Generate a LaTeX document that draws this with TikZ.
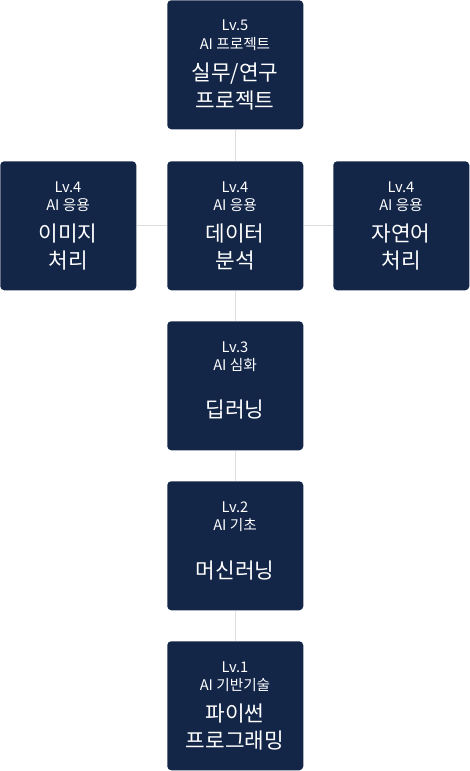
\documentclass[tikz,border=0pt]{standalone}
\usepackage{fontspec}
\setmainfont{Noto Sans CJK KR}
\definecolor{navy}{RGB}{19,38,72}
\definecolor{linegray}{RGB}{221,221,221}
\begin{document}
\begin{tikzpicture}[x=0.75pt,y=-0.75pt,
  card/.style={fill=navy,rounded corners=3pt,minimum width=102pt,minimum height=96.75pt,inner sep=0pt,anchor=north west},
  small/.style={text=white,font=\fontsize{11pt}{13pt}\selectfont,inner sep=0pt},
  big/.style={text=white,font=\fontsize{16pt}{19pt}\selectfont,inner sep=0pt},
  conn/.style={draw=linegray,line width=0.75pt}]
\useasboundingbox (0,0) rectangle (470,771);
\node[card] (b5) at (167,0) {};
\node[card] (b4l) at (0,161) {};
\node[card] (b4m) at (167,161) {};
\node[card] (b4r) at (333,161) {};
\node[card] (b3) at (167,321) {};
\node[card] (b2) at (167,481) {};
\node[card] (b1) at (167,641) {};
\draw[conn] (b5.south) -- (b4m.north);
\draw[conn] (b4m.south) -- (b3.north);
\draw[conn] (b3.south) -- (b2.north);
\draw[conn] (b2.south) -- (b1.north);
\draw[conn] (b4l.east) -- (b4m.west);
\draw[conn] (b4m.east) -- (b4r.west);
% texts
\node[small] (t5a) at (235,25) {Lv.5};
\node[small] (t5b) at (235,44) {AI 프로젝트};
\node[big] (t5c) at (235,74) {실무/연구};
\node[big] (t5d) at (235,101) {프로젝트};
\foreach \cx/\nm/\la/\lb in {68/l/이미지/처리, 235/m/데이터/분석, 401/r/자연어/처리}{
  \node[small] (t4a\nm) at (\cx,187) {Lv.4};
  \node[small] (t4b\nm) at (\cx,205) {AI 응용};
  \node[big] (t4c\nm) at (\cx,234) {\la};
  \node[big] (t4d\nm) at (\cx,261) {\lb};
}
\node[small] (t3a) at (235,347) {Lv.3};
\node[small] (t3b) at (235,365) {AI 심화};
\node[big] (t3c) at (235,410) {딥러닝};
\node[small] (t2a) at (235,507) {Lv.2};
\node[small] (t2b) at (235,525) {AI 기초};
\node[big] (t2c) at (235,571) {머신러닝};
\node[small] (t1a) at (235,667) {Lv.1};
\node[small] (t1b) at (235,685) {AI 기반기술};
\node[big] (t1c) at (235,714) {파이썬};
\node[big] (t1d) at (235,741) {프로그래밍};
\end{tikzpicture}
\end{document}
